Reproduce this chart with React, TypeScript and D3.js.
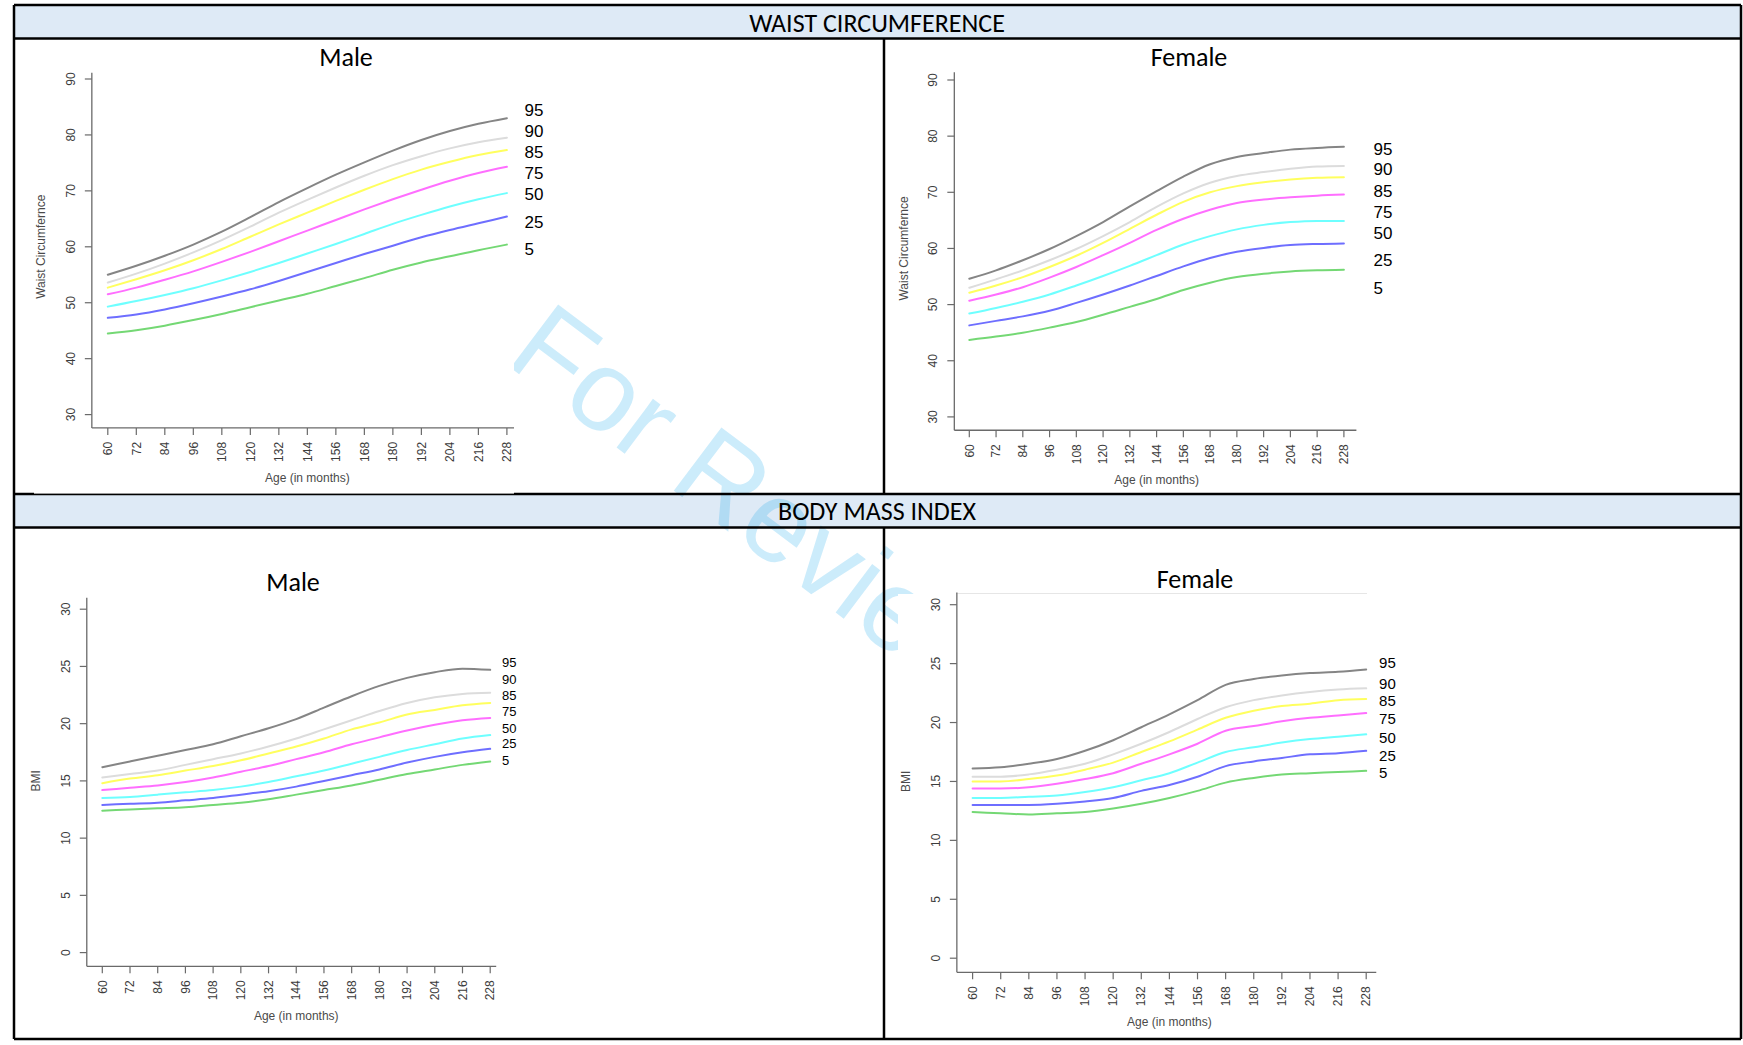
import React from "react";
import * as d3 from "d3";

// ---------- data ----------
const ages = [60, 72, 84, 96, 108, 120, 132, 144, 156, 168, 180, 192, 204, 216, 228];
const percentiles = ["95", "90", "85", "75", "50", "25", "5"];
const percentileColors = ["#858585", "#dcdcdc", "#ffff5e", "#ff6eff", "#6effff", "#6e6eff", "#74d874"];

const waistTicks = [30, 40, 50, 60, 70, 80, 90];
const bmiTicks = [0, 5, 10, 15, 20, 25, 30];

const waistMale = [
  [55, 56.6, 58.4, 60.4, 62.7, 65.3, 68.0, 70.5, 72.9, 75.1, 77.2, 79.1, 80.7, 82.0, 83],
  [53.6, 55.2, 57.0, 59.0, 61.2, 63.6, 66.1, 68.4, 70.6, 72.7, 74.6, 76.2, 77.6, 78.7, 79.5],
  [52.7, 54.2, 55.8, 57.6, 59.6, 61.8, 64.0, 66.1, 68.2, 70.2, 72.1, 73.8, 75.2, 76.4, 77.3],
  [51.5, 52.7, 54.1, 55.6, 57.3, 59.1, 61.0, 62.9, 64.8, 66.7, 68.5, 70.2, 71.8, 73.2, 74.3],
  [49.3, 50.3, 51.4, 52.6, 54.0, 55.5, 57.1, 58.8, 60.5, 62.3, 64.1, 65.7, 67.2, 68.5, 69.6],
  [47.3, 47.9, 48.8, 49.9, 51.1, 52.4, 53.9, 55.5, 57.1, 58.7, 60.2, 61.7, 63.0, 64.2, 65.4],
  [44.5, 45.1, 45.9, 46.9, 48.0, 49.2, 50.4, 51.6, 53.0, 54.4, 55.9, 57.2, 58.3, 59.4, 60.4],
];
const waistMaleLabelLevels = [84.46, 80.7, 76.9, 73.15, 69.4, 64.5, 59.6];

const waistFemale = [
  [54.6, 56.1, 57.9, 59.9, 62.2, 64.7, 67.5, 70.2, 72.8, 75.0, 76.3, 77.0, 77.6, 77.9, 78.1],
  [53.0, 54.5, 56.1, 57.9, 59.9, 62.2, 64.7, 67.4, 69.8, 71.7, 72.9, 73.6, 74.2, 74.6, 74.7],
  [52.1, 53.4, 54.9, 56.7, 58.7, 61.0, 63.5, 66.0, 68.3, 70.0, 71.1, 71.8, 72.3, 72.6, 72.7],
  [50.7, 51.8, 53.1, 54.8, 56.7, 58.8, 61.0, 63.3, 65.3, 66.9, 68.1, 68.7, 69.1, 69.4, 69.6],
  [48.4, 49.4, 50.5, 51.8, 53.4, 55.1, 56.9, 58.8, 60.7, 62.2, 63.4, 64.2, 64.7, 64.9, 64.9],
  [46.3, 47.1, 47.9, 48.9, 50.3, 51.8, 53.4, 55.1, 56.8, 58.3, 59.4, 60.1, 60.6, 60.8, 60.9],
  [43.7, 44.3, 45.0, 45.9, 46.9, 48.2, 49.6, 51.0, 52.6, 53.9, 54.9, 55.5, 55.9, 56.1, 56.2],
];
const waistFemaleLabelLevels = [77.76, 74.1, 70.3, 66.5, 62.8, 58.0, 53.0];

const bmiMale = [
  [16.2, 16.7, 17.2, 17.7, 18.2, 18.9, 19.6, 20.4, 21.4, 22.4, 23.3, 24.0, 24.5, 24.8, 24.7],
  [15.3, 15.6, 15.9, 16.4, 16.9, 17.4, 18.0, 18.7, 19.5, 20.3, 21.1, 21.8, 22.3, 22.6, 22.7],
  [14.8, 15.2, 15.5, 15.9, 16.3, 16.8, 17.4, 18.0, 18.7, 19.5, 20.1, 20.8, 21.2, 21.6, 21.8],
  [14.2, 14.4, 14.6, 14.9, 15.3, 15.8, 16.3, 16.9, 17.5, 18.2, 18.8, 19.4, 19.9, 20.3, 20.5],
  [13.5, 13.6, 13.8, 14.0, 14.2, 14.5, 14.9, 15.4, 15.9, 16.5, 17.1, 17.7, 18.2, 18.7, 19.0],
  [12.9, 13.0, 13.1, 13.3, 13.5, 13.8, 14.1, 14.5, 15.0, 15.5, 16.0, 16.6, 17.1, 17.5, 17.8],
  [12.4, 12.5, 12.6, 12.7, 12.9, 13.1, 13.4, 13.8, 14.2, 14.6, 15.1, 15.6, 16.0, 16.4, 16.7],
];
const bmiMaleLabelLevels = [25.35, 23.9, 22.5, 21.1, 19.6, 18.25, 16.84];

const bmiFemale = [
  [16.1, 16.2, 16.5, 16.9, 17.6, 18.5, 19.6, 20.7, 21.9, 23.2, 23.7, 24.0, 24.2, 24.3, 24.5],
  [15.4, 15.4, 15.6, 16.0, 16.5, 17.3, 18.2, 19.2, 20.3, 21.3, 21.9, 22.3, 22.6, 22.8, 22.9],
  [15.0, 15.0, 15.2, 15.5, 16.0, 16.6, 17.5, 18.4, 19.4, 20.4, 21.0, 21.4, 21.6, 21.9, 22.0],
  [14.4, 14.4, 14.5, 14.8, 15.2, 15.7, 16.5, 17.3, 18.2, 19.3, 19.7, 20.1, 20.4, 20.6, 20.8],
  [13.6, 13.6, 13.7, 13.8, 14.1, 14.5, 15.1, 15.7, 16.6, 17.5, 17.9, 18.3, 18.6, 18.8, 19.0],
  [13.0, 13.0, 13.0, 13.1, 13.3, 13.6, 14.2, 14.7, 15.4, 16.3, 16.7, 17.0, 17.3, 17.4, 17.6],
  [12.4, 12.3, 12.2, 12.3, 12.4, 12.7, 13.1, 13.6, 14.2, 14.9, 15.3, 15.6, 15.7, 15.8, 15.9],
];
const bmiFemaleLabelLevels = [25.07, 23.28, 21.85, 20.3, 18.75, 17.22, 15.73];

// ---------- layout ----------
const W = 1743;
const H = 1045;
const FONT_DOC = "Carlito, Calibri, Lato, 'Open Sans', sans-serif";
const FONT_PLOT = "'Liberation Sans', Arial, Helvetica, sans-serif";

type PanelCfg = {
  title: string;
  titleX: number;
  titleY: number;
  series: number[][];
  labelLevels: number[];
  labelAge: number;
  labelSize: number;
  yTicks: number[];
  yDomain: [number, number];
  yRange: [number, number];
  xRange: [number, number];
  yAxisExt: [number, number];
  xAxisExt: [number, number];
  yTitle: string;
};

const panels: PanelCfg[] = [
  {
    title: "Male", titleX: 346, titleY: 57,
    series: waistMale, labelLevels: waistMaleLabelLevels, labelAge: 235.4, labelSize: 17,
    yTicks: waistTicks, yDomain: [30, 90], yRange: [414.6, 79], xRange: [107.8, 506.9],
    yAxisExt: [27.62, 91.1], xAxisExt: [53.28, 231], yTitle: "Waist Circumfernce",
  },
  {
    title: "Female", titleX: 1189, titleY: 57,
    series: waistFemale, labelLevels: waistFemaleLabelLevels, labelAge: 241.3, labelSize: 17,
    yTicks: waistTicks, yDomain: [30, 90], yRange: [416.9, 80], xRange: [969.3, 1343.9],
    yAxisExt: [27.62, 91.4], xAxisExt: [53.28, 233.6], yTitle: "Waist Circumfernce",
  },
  {
    title: "Male", titleX: 293, titleY: 582,
    series: bmiMale, labelLevels: bmiMaleLabelLevels, labelAge: 233.1, labelSize: 13,
    yTicks: bmiTicks, yDomain: [0, 30], yRange: [952.6, 609.2], xRange: [102.3, 490.2],
    yAxisExt: [-1.2, 31], xAxisExt: [53.28, 230.6], yTitle: "BMI",
  },
  {
    title: "Female", titleX: 1195, titleY: 579,
    series: bmiFemale, labelLevels: bmiFemaleLabelLevels, labelAge: 233.5, labelSize: 15,
    yTicks: bmiTicks, yDomain: [0, 30], yRange: [958.2, 604.7], xRange: [972.6, 1366.2],
    yAxisExt: [-1.2, 31.04], xAxisExt: [53.28, 232.3], yTitle: "BMI",
  },
];

function Panel({ cfg }: { cfg: PanelCfg }) {
  const x = d3.scaleLinear().domain([60, 228]).range(cfg.xRange);
  const y = d3.scaleLinear().domain(cfg.yDomain).range(cfg.yRange);
  const line = d3
    .line<number>()
    .x((_, i) => x(ages[i]))
    .y((v) => y(v))
    .curve(d3.curveMonotoneX);
  const ax = x(cfg.xAxisExt[0]);
  const ay = y(cfg.yAxisExt[0]);
  const axisColor = "#6a6a6a";
  const tickText = "#3c3c3c";
  const midY = (y(cfg.yAxisExt[0]) + y(cfg.yDomain[1] + (cfg.yDomain[1] - cfg.yDomain[0]) * 0.04)) / 2;
  return (
    <g>
      <text x={cfg.titleX} y={cfg.titleY} dy="0.35em" textAnchor="middle" fontFamily={FONT_DOC} fontSize={26} fill="#000">
        {cfg.title}
      </text>
      {/* axes */}
      <line x1={ax} x2={ax} y1={y(cfg.yAxisExt[0])} y2={y(cfg.yAxisExt[1])} stroke={axisColor} strokeWidth={1.3} />
      <line x1={x(cfg.xAxisExt[0])} x2={x(cfg.xAxisExt[1])} y1={ay} y2={ay} stroke={axisColor} strokeWidth={1.3} />
      {cfg.yTicks.map((t) => (
        <g key={"y" + t}>
          <line x1={ax - 7} x2={ax} y1={y(t)} y2={y(t)} stroke={axisColor} strokeWidth={1.2} />
          <text
            transform={`translate(${ax - 17},${y(t)}) rotate(-90)`}
            textAnchor="middle"
            fontFamily={FONT_PLOT}
            fontSize={12}
            fill={tickText}
          >
            {t}
          </text>
        </g>
      ))}
      {ages.map((t) => (
        <g key={"x" + t}>
          <line x1={x(t)} x2={x(t)} y1={ay} y2={ay + 7} stroke={axisColor} strokeWidth={1.2} />
          <text
            transform={`translate(${x(t)},${ay + 14}) rotate(-90)`}
            textAnchor="end"
            dy="0.35em"
            fontFamily={FONT_PLOT}
            fontSize={12}
            fill={tickText}
          >
            {t}
          </text>
        </g>
      ))}
      <text
        x={(x(cfg.xAxisExt[0]) + x(234.72)) / 2}
        y={ay + 54}
        textAnchor="middle"
        fontFamily={FONT_PLOT}
        fontSize={12}
        fill="#4a4a4a"
      >
        Age (in months)
      </text>
      <text
        transform={`translate(${ax - 46.5},${midY}) rotate(-90)`}
        textAnchor="middle"
        fontFamily={FONT_PLOT}
        fontSize={12}
        fill="#4a4a4a"
      >
        {cfg.yTitle}
      </text>
      {/* curves */}
      {cfg.series.map((s, i) => (
        <path key={"c" + i} d={line(s) || ""} fill="none" stroke={percentileColors[i]} strokeWidth={2} strokeLinecap="round" />
      ))}
      {percentiles.map((p, i) => (
        <text
          key={"l" + p}
          x={x(cfg.labelAge)}
          y={y(cfg.labelLevels[i])}
          dy="0.36em"
          fontFamily={FONT_PLOT}
          fontSize={cfg.labelSize}
          fill="#000"
        >
          {p}
        </text>
      ))}
    </g>
  );
}

export default function App() {
  const border = "#000";
  const bw = 2.5;
  const left = 14;
  const right = 1741;
  const top = 5;
  const bottom = 1039;
  const head1Bottom = 38.5;
  const head2Top = 494;
  const head2Bottom = 527.5;
  const divX = 884;
  return (
    <svg
      width={W}
      height={H}
      viewBox={`0 0 ${W} ${H}`}
      style={{ position: "absolute", left: 0, top: 0, display: "block", background: "#fff" }}
    >
      <rect x={0} y={0} width={W} height={H} fill="#fff" />
      {/* header bands */}
      <rect x={left} y={top} width={right - left} height={head1Bottom - top} fill="#deeaf6" />
      <rect x={left} y={head2Top} width={right - left} height={head2Bottom - head2Top} fill="#deeaf6" />
      {/* watermark */}
      <text
        transform="translate(503,362) rotate(37)"
        fontFamily={FONT_PLOT}
        fontSize={115}
        fill="#00a2ea"
        fillOpacity={0.2}
      >
        For Review
      </text>
      {/* table lines */}
      <line x1={left} x2={right} y1={top} y2={top} stroke={border} strokeWidth={bw} />
      <line x1={left} x2={right} y1={head1Bottom} y2={head1Bottom} stroke={border} strokeWidth={bw} />
      <line x1={left} x2={right} y1={head2Top} y2={head2Top} stroke={border} strokeWidth={bw} />
      <line x1={left} x2={right} y1={head2Bottom} y2={head2Bottom} stroke={border} strokeWidth={bw} />
      <line x1={left} x2={right} y1={bottom} y2={bottom} stroke={border} strokeWidth={bw} />
      <line x1={left} x2={left} y1={top} y2={bottom} stroke={border} strokeWidth={bw} />
      <line x1={right} x2={right} y1={top} y2={bottom} stroke={border} strokeWidth={bw} />
      <line x1={divX} x2={divX} y1={head1Bottom} y2={head2Top} stroke={border} strokeWidth={bw} />
      <line x1={divX} x2={divX} y1={head2Bottom} y2={bottom} stroke={border} strokeWidth={bw} />
      {/* pasted plot images (white backgrounds) */}
      <rect x={34} y={66} width={480} height={427.6} fill="#fff" />
      <rect x={898} y={594} width={482} height={442} fill="#fff" />
      <line x1={956} x2={1367} y1={593.5} y2={593.5} stroke="#e6e6e6" strokeWidth={1} />
      {/* header text */}
      <text x={877} y={22.5} dy="0.35em" textAnchor="middle" fontFamily={FONT_DOC} fontSize={26} fill="#000">
        WAIST CIRCUMFERENCE
      </text>
      <text x={877} y={511} dy="0.35em" textAnchor="middle" fontFamily={FONT_DOC} fontSize={26} fill="#000">
        BODY MASS INDEX
      </text>
      {panels.map((p, i) => (
        <Panel key={i} cfg={p} />
      ))}
    </svg>
  );
}
